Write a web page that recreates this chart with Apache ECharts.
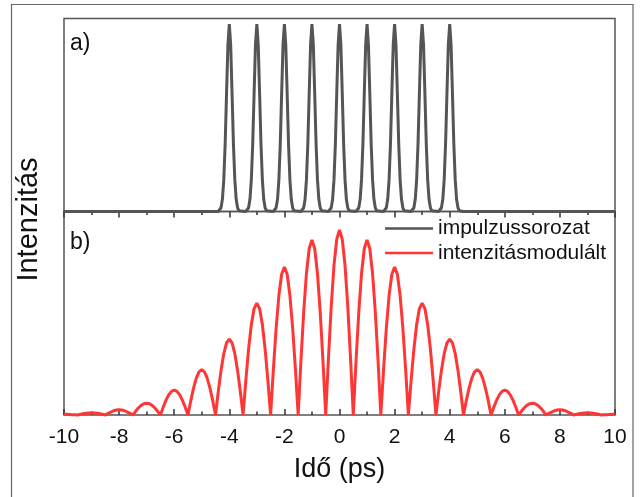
<!DOCTYPE html>
<html>
<head>
<meta charset="utf-8">
<script src="https://cdn.jsdelivr.net/npm/echarts@6/dist/echarts.min.js"></script>
<style>
html,body{margin:0;padding:0;background:#fff;}
#chart{width:641px;height:497px;}
</style>
</head>
<body>
<div id="chart"></div>
<script>
// ---- data ----
const seriesNames = ['impulzussorozat', 'intenzitásmodulált'];
const panelLabels = ['a)', 'b)'];
const xTitle = 'Idő (ps)';
const yTitle = 'Intenzitás';

// a) pulse train [time (ps), intensity]
const pulseTrain = [
  [-10,0],[-4.5,0],
  [-4.4,0],[-4.35,0.004],[-4.3,0.02],[-4.25,0.065],[-4.2,0.17],[-4.15,0.36],[-4.1,0.63],[-4.05,0.89],[-4,1],[-3.95,0.89],[-3.9,0.63],[-3.85,0.36],[-3.8,0.17],[-3.75,0.065],[-3.7,0.02],[-3.65,0.004],[-3.6,0],
  [-3.4,0],[-3.35,0.004],[-3.3,0.02],[-3.25,0.065],[-3.2,0.17],[-3.15,0.36],[-3.1,0.63],[-3.05,0.89],[-3,1],[-2.95,0.89],[-2.9,0.63],[-2.85,0.36],[-2.8,0.17],[-2.75,0.065],[-2.7,0.02],[-2.65,0.004],[-2.6,0],
  [-2.4,0],[-2.35,0.004],[-2.3,0.02],[-2.25,0.065],[-2.2,0.17],[-2.15,0.36],[-2.1,0.63],[-2.05,0.89],[-2,1],[-1.95,0.89],[-1.9,0.63],[-1.85,0.36],[-1.8,0.17],[-1.75,0.065],[-1.7,0.02],[-1.65,0.004],[-1.6,0],
  [-1.4,0],[-1.35,0.004],[-1.3,0.02],[-1.25,0.065],[-1.2,0.17],[-1.15,0.36],[-1.1,0.63],[-1.05,0.89],[-1,1],[-0.95,0.89],[-0.9,0.63],[-0.85,0.36],[-0.8,0.17],[-0.75,0.065],[-0.7,0.02],[-0.65,0.004],[-0.6,0],
  [-0.4,0],[-0.35,0.004],[-0.3,0.02],[-0.25,0.065],[-0.2,0.17],[-0.15,0.36],[-0.1,0.63],[-0.05,0.89],[0,1],[0.05,0.89],[0.1,0.63],[0.15,0.36],[0.2,0.17],[0.25,0.065],[0.3,0.02],[0.35,0.004],[0.4,0],
  [0.6,0],[0.65,0.004],[0.7,0.02],[0.75,0.065],[0.8,0.17],[0.85,0.36],[0.9,0.63],[0.95,0.89],[1,1],[1.05,0.89],[1.1,0.63],[1.15,0.36],[1.2,0.17],[1.25,0.065],[1.3,0.02],[1.35,0.004],[1.4,0],
  [1.6,0],[1.65,0.004],[1.7,0.02],[1.75,0.065],[1.8,0.17],[1.85,0.36],[1.9,0.63],[1.95,0.89],[2,1],[2.05,0.89],[2.1,0.63],[2.15,0.36],[2.2,0.17],[2.25,0.065],[2.3,0.02],[2.35,0.004],[2.4,0],
  [2.6,0],[2.65,0.004],[2.7,0.02],[2.75,0.065],[2.8,0.17],[2.85,0.36],[2.9,0.63],[2.95,0.89],[3,1],[3.05,0.89],[3.1,0.63],[3.15,0.36],[3.2,0.17],[3.25,0.065],[3.3,0.02],[3.35,0.004],[3.4,0],
  [3.6,0],[3.65,0.004],[3.7,0.02],[3.75,0.065],[3.8,0.17],[3.85,0.36],[3.9,0.63],[3.95,0.89],[4,1],[4.05,0.89],[4.1,0.63],[4.15,0.36],[4.2,0.17],[4.25,0.065],[4.3,0.02],[4.35,0.004],[4.4,0],
  [4.5,0],[10,0]
];

// b) intensity-modulated signal [time (ps), intensity]
const modulated = [
  [-10,0.004],[-9.9,0.004],[-9.8,0.003],[-9.7,0.002],[-9.6,0.001],[-9.5,0],
  [-9.4,0.004],[-9.3,0.007],[-9.2,0.010],[-9.1,0.011],[-9,0.012],[-8.9,0.011],[-8.8,0.010],[-8.7,0.007],[-8.6,0.004],[-8.5,0],
  [-8.4,0.009],[-8.3,0.016],[-8.2,0.023],[-8.1,0.027],[-8,0.028],[-7.9,0.027],[-7.8,0.023],[-7.7,0.016],[-7.6,0.009],[-7.5,0],
  [-7.4,0.020],[-7.3,0.038],[-7.2,0.052],[-7.1,0.061],[-7,0.064],[-6.9,0.061],[-6.8,0.052],[-6.7,0.038],[-6.6,0.020],[-6.5,0],
  [-6.4,0.042],[-6.3,0.079],[-6.2,0.109],[-6.1,0.128],[-6,0.135],[-5.9,0.128],[-5.8,0.109],[-5.7,0.079],[-5.6,0.042],[-5.5,0],
  [-5.4,0.076],[-5.3,0.144],[-5.2,0.198],[-5.1,0.233],[-5,0.245],[-4.9,0.233],[-4.8,0.198],[-4.7,0.144],[-4.6,0.076],[-4.5,0],
  [-4.4,0.127],[-4.3,0.241],[-4.2,0.332],[-4.1,0.390],[-4,0.41],[-3.9,0.390],[-3.8,0.332],[-3.7,0.241],[-3.6,0.127],[-3.5,0],
  [-3.4,0.187],[-3.3,0.356],[-3.2,0.489],[-3.1,0.575],[-3,0.605],[-2.9,0.575],[-2.8,0.489],[-2.7,0.356],[-2.6,0.187],[-2.5,0],
  [-2.4,0.247],[-2.3,0.470],[-2.2,0.647],[-2.1,0.761],[-2,0.80],[-1.9,0.761],[-1.8,0.647],[-1.7,0.470],[-1.6,0.247],[-1.5,0],
  [-1.4,0.292],[-1.3,0.556],[-1.2,0.765],[-1.1,0.900],[-1,0.946],[-0.9,0.900],[-0.8,0.765],[-0.7,0.556],[-0.6,0.292],[-0.5,0],
  [-0.4,0.309],[-0.3,0.588],[-0.2,0.809],[-0.1,0.951],[0,1],[0.1,0.951],[0.2,0.809],[0.3,0.588],[0.4,0.309],[0.5,0],
  [0.6,0.292],[0.7,0.556],[0.8,0.765],[0.9,0.900],[1,0.946],[1.1,0.900],[1.2,0.765],[1.3,0.556],[1.4,0.292],[1.5,0],
  [1.6,0.247],[1.7,0.470],[1.8,0.647],[1.9,0.761],[2,0.80],[2.1,0.761],[2.2,0.647],[2.3,0.470],[2.4,0.247],[2.5,0],
  [2.6,0.187],[2.7,0.356],[2.8,0.489],[2.9,0.575],[3,0.605],[3.1,0.575],[3.2,0.489],[3.3,0.356],[3.4,0.187],[3.5,0],
  [3.6,0.127],[3.7,0.241],[3.8,0.332],[3.9,0.390],[4,0.41],[4.1,0.390],[4.2,0.332],[4.3,0.241],[4.4,0.127],[4.5,0],
  [4.6,0.076],[4.7,0.144],[4.8,0.198],[4.9,0.233],[5,0.245],[5.1,0.233],[5.2,0.198],[5.3,0.144],[5.4,0.076],[5.5,0],
  [5.6,0.042],[5.7,0.079],[5.8,0.109],[5.9,0.128],[6,0.135],[6.1,0.128],[6.2,0.109],[6.3,0.079],[6.4,0.042],[6.5,0],
  [6.6,0.020],[6.7,0.038],[6.8,0.052],[6.9,0.061],[7,0.064],[7.1,0.061],[7.2,0.052],[7.3,0.038],[7.4,0.020],[7.5,0],
  [7.6,0.009],[7.7,0.016],[7.8,0.023],[7.9,0.027],[8,0.028],[8.1,0.027],[8.2,0.023],[8.3,0.016],[8.4,0.009],[8.5,0],
  [8.6,0.004],[8.7,0.007],[8.8,0.010],[8.9,0.011],[9,0.012],[9.1,0.011],[9.2,0.010],[9.3,0.007],[9.4,0.004],[9.5,0],
  [9.6,0.001],[9.7,0.002],[9.8,0.003],[9.9,0.004],[10,0.004]
];

// x axis range / ticks
const xMin = -10, xMax = 10, xInterval = 2;

// ---- chart ----
const FONT = '"Liberation Sans", Arial, sans-serif';
const chart = echarts.init(document.getElementById('chart'), null, {renderer: 'canvas'});

const commonX = {
  type: 'value', min: xMin, max: xMax, interval: xInterval,
  axisLine: {show: false},
  splitLine: {show: false},
  axisTick: {show: true, inside: true, length: 6, lineStyle: {color: '#333', width: 1.5}},
  minorTick: {show: true, splitNumber: 2, length: 3.5, lineStyle: {color: '#333', width: 1.5}}
};

chart.setOption({
  animation: false,
  backgroundColor: '#fff',
  grid: [
    {left: 64, right: 26, top: 18.5, height: 193, show: true, borderColor: '#555', borderWidth: 1.5},
    {left: 64, right: 26, top: 211.5, height: 203.5, show: true, borderColor: '#555', borderWidth: 1.5}
  ],
  xAxis: [
    Object.assign({}, commonX, {gridIndex: 0, position: 'top', axisLabel: {show: false}}),
    Object.assign({}, commonX, {
      gridIndex: 1, position: 'bottom',
      axisLabel: {show: true, margin: 12, fontSize: 21, color: '#111', fontFamily: FONT},
      name: xTitle, nameLocation: 'middle', nameGap: 41,
      nameTextStyle: {fontSize: 27, color: '#111', fontFamily: FONT}
    })
  ],
  yAxis: [
    {type: 'value', gridIndex: 0, min: 0, max: 1.03, show: false},
    {type: 'value', gridIndex: 1, min: 0, max: 1.1, show: false}
  ],
  legend: {
    orient: 'vertical', left: 385, top: 217, padding: 0,
    itemWidth: 48, itemHeight: 2.5, itemGap: 1.4, icon: 'rect',
    data: seriesNames,
    textStyle: {fontSize: 21, lineHeight: 23, color: '#111', fontFamily: FONT}
  },
  series: [
    {
      name: seriesNames[0], type: 'line', xAxisIndex: 0, yAxisIndex: 0,
      data: pulseTrain, showSymbol: false, symbol: 'none', clip: false,
      color: '#555555',
      lineStyle: {color: '#555555', width: 3}
    },
    {
      name: seriesNames[1], type: 'line', xAxisIndex: 1, yAxisIndex: 1,
      data: modulated, showSymbol: false, symbol: 'none', clip: false,
      color: '#ff3636',
      lineStyle: {color: '#ff3636', width: 3}
    }
  ],
  graphic: [
    {type: 'rect', z: -10, silent: true,
     shape: {x: 11.5, y: 4.5, width: 621.5, height: 530},
     style: {fill: 'none', stroke: '#666', lineWidth: 1.2}},
    {type: 'text', left: 70, top: 32, silent: true,
     style: {text: panelLabels[0], fill: '#111', font: '23px "Liberation Sans", Arial, sans-serif'}},
    {type: 'text', left: 70, top: 231, silent: true,
     style: {text: panelLabels[1], fill: '#111', font: '23px "Liberation Sans", Arial, sans-serif'}},
    {type: 'text', x: 29, y: 219.5, rotation: Math.PI / 2, silent: true,
     style: {text: yTitle, fill: '#111', font: '29px "Liberation Sans", Arial, sans-serif',
             align: 'center', verticalAlign: 'middle'}}
  ]
});
</script>
</body>
</html>
